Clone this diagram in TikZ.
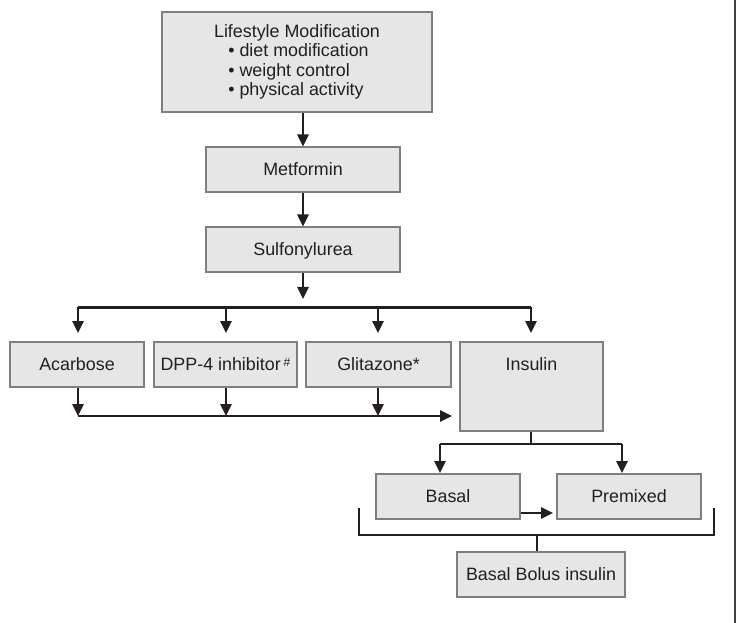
\documentclass[tikz,border=0pt]{standalone}
\usepackage{fontspec}
\setmainfont{Liberation Sans}
\usetikzlibrary{arrows.meta}
\definecolor{boxfill}{HTML}{E6E6E6}
\definecolor{boxline}{HTML}{7F7F7F}
\definecolor{ink}{HTML}{231F20}
\newcommand\bulletline[1]{\makebox[103pt][l]{\textbullet\ #1}}
\tikzset{
  box/.style={draw=boxline, fill=boxfill, line width=1.5pt, inner sep=0pt,
    font=\fontsize{13.4}{14.5}\selectfont, text=ink,
    text height=21.2pt, text depth=12.55pt},
  bigbox/.style={draw=boxline, fill=boxfill, line width=1.5pt, inner sep=0pt,
    font=\fontsize{13.4}{14.5}\selectfont, text=ink, align=center},
  conn/.style={draw=ink, line width=1.6pt},
  arr/.style={conn, -{Triangle[length=9pt,width=8.5pt]}}
}
\begin{document}
\begin{tikzpicture}[x=0.75pt,y=-0.75pt]
\useasboundingbox (0,0) rectangle (738,623);
% right border line
\coordinate (rt) at (735,0);
\coordinate (rb) at (735,623);
\draw[draw=ink!85, line width=1.5pt] (rt) -- (rb);

% boxes
\node[bigbox, minimum width=202.5pt, minimum height=75pt] (life) at (297,62)
  {Lifestyle Modification\\\bulletline{diet modification}\\\bulletline{weight control}\\\bulletline{physical activity}};
\node[box, minimum width=145.5pt] (met) at (303,170) {Metformin};
\node[box, minimum width=145.5pt] (sulf) at (303,250) {Sulfonylurea};
\node[box, minimum width=100.5pt] (acar) at (77,364.5) {Acarbose};
\node[box, minimum width=107.25pt] (dpp) at (225.5,364.5) {DPP-4 inhibitor\,\raisebox{0.45ex}{\small\#}};
\node[box, minimum width=108.75pt] (glit) at (378.5,364.5) {Glitazone*};
\node[box, minimum width=107.25pt, text depth=45.55pt] (ins) at (531.5,386.5) {Insulin};
\node[box, minimum width=108pt] (basal) at (448,496.5) {Basal};
\node[box, minimum width=108pt] (prem) at (629,496.5) {Premixed};
\node[box, minimum width=126pt] (bolus) at (541,574.5) {Basal Bolus insulin};

% top chain
\draw[arr] (met.north |- life.south) -- (met.north);
\draw[arr] (met.south) -- (sulf.north);
\coordinate (s1) at (303,299);
\draw[arr] (sulf.south) -- (s1);

% distribution bar
\coordinate (hl) at (78,307.5);
\coordinate (hr) at (531,307.5);
\coordinate (t1) at (78,333);
\coordinate (t2) at (226,333);
\coordinate (t3) at (378,333);
\coordinate (t4) at (531,333);
\draw[conn] (hl) -- (hr);
\draw[arr] (hl) -- (t1);
\draw[arr] (t2 |- hl) -- (t2);
\draw[arr] (t3 |- hl) -- (t3);
\draw[arr] (hr) -- (t4);

% collection bar
\coordinate (c1) at (78,416);
\coordinate (c2) at (226,416);
\coordinate (c3) at (378,416);
\coordinate (ce) at (452,416);
\draw[arr] (c1 |- acar.south) -- (c1);
\draw[arr] (c2 |- dpp.south) -- (c2);
\draw[arr] (c3 |- glit.south) -- (c3);
\draw[arr] (c1) -- (ce);

% insulin split
\coordinate (i1) at (531,444);
\coordinate (il) at (440,444);
\coordinate (ir) at (622,444);
\coordinate (ilt) at (440,473);
\coordinate (irt) at (622,473);
\draw[conn] (ins.south -| i1) -- (i1);
\draw[conn] (il) -- (ir);
\draw[arr] (il) -- (ilt);
\draw[arr] (ir) -- (irt);

% basal -> premixed
\coordinate (bp) at (553,513);
\draw[arr] (basal.east |- bp) -- (bp);

% bracket
\coordinate (b1) at (359,508);
\coordinate (b2) at (359,535);
\coordinate (b3) at (714,535);
\coordinate (b4) at (714,508);
\coordinate (bs) at (537,535);
\draw[conn] (b1) -- (b2) -- (b3) -- (b4);
\draw[conn] (bs) -- (bs |- bolus.north);
\end{tikzpicture}
\end{document}
